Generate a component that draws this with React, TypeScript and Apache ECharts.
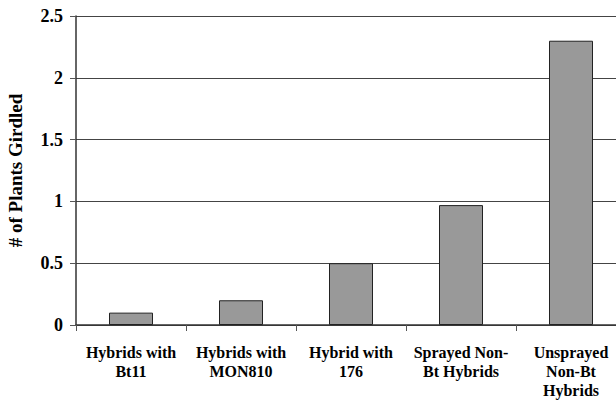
import React, { useEffect, useRef } from "react";
import * as echarts from "echarts";

const categories = [
  "Hybrids with\nBt11",
  "Hybrids with\nMON810",
  "Hybrid with\n176",
  "Sprayed Non-\nBt Hybrids",
  "Unsprayed\nNon-Bt\nHybrids",
];
const plantsGirdled = [0.1, 0.2, 0.5, 0.97, 2.3];
const yTicks = { min: 0, max: 2.5, interval: 0.5 };
const yAxisTitle = "# of Plants Girdled";

const FONT = "Liberation Serif";

export default function App() {
  const ref = useRef<HTMLDivElement>(null);
  useEffect(() => {
    if (!ref.current) return;
    const chart = echarts.init(ref.current, undefined, { renderer: "svg" });
    chart.setOption({
      animation: false,
      backgroundColor: "#ffffff",
      textStyle: { fontFamily: FONT },
      grid: {
        left: 76,
        top: 16,
        width: 550,
        height: 309,
        containLabel: false,
        outerBoundsMode: "none",
      },
      xAxis: {
        type: "category",
        data: categories,
        axisLine: { show: true, lineStyle: { color: "#333333", width: 1.5 } },
        axisTick: { show: true, length: 6, lineStyle: { color: "#555555" } },
        axisLabel: {
          interval: 0,
          margin: 18,
          fontFamily: FONT,
          fontWeight: "bold",
          fontSize: 16,
          lineHeight: 19,
          color: "#000000",
        },
      },
      yAxis: {
        type: "value",
        min: yTicks.min,
        max: yTicks.max,
        interval: yTicks.interval,
        name: yAxisTitle,
        nameLocation: "middle",
        nameGap: 51,
        nameTextStyle: {
          fontFamily: FONT,
          fontWeight: "bold",
          fontSize: 19,
          color: "#000000",
        },
        axisLine: { show: true, lineStyle: { color: "#333333", width: 1.5 } },
        axisTick: { show: true, length: 6, lineStyle: { color: "#555555" } },
        axisLabel: {
          margin: 13,
          fontFamily: FONT,
          fontWeight: "bold",
          fontSize: 18,
          color: "#000000",
        },
        splitLine: { show: true, lineStyle: { color: "#444444", width: 1.2 } },
      },
      series: [
        {
          type: "bar",
          data: plantsGirdled,
          barWidth: "40%",
          itemStyle: { color: "#999999", borderColor: "#222222", borderWidth: 1 },
        },
      ],
    });
    return () => chart.dispose();
  }, []);
  return <div ref={ref} style={{ width: 616, height: 402, position: "absolute", left: 0, top: 0 }} />;
}
